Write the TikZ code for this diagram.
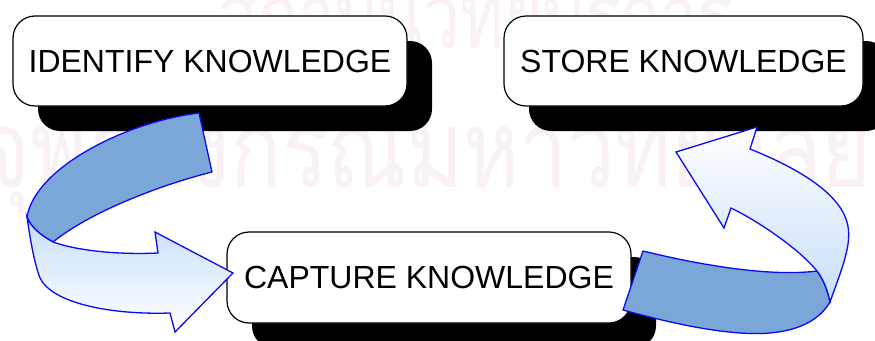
\documentclass[tikz,border=0pt]{standalone}
\usepackage{fontspec}
\setmainfont{Liberation Sans}
\newfontfamily\thaifont[Script=Thai]{Loma}
\usetikzlibrary{shadows}
\definecolor{ribbondark}{RGB}{122,167,215}
\definecolor{ribbonlight}{RGB}{200,222,250}
\definecolor{ribbonline}{RGB}{10,10,245}
\definecolor{wmark}{RGB}{250,241,246}
\tikzset{
 kbox/.style={draw=black, line width=1.2pt, fill=white, rounded corners=22pt, inner sep=0pt,
   minimum height=90pt, font=\fontsize{32}{38}\selectfont,
   general shadow={fill=black, shadow xshift=25pt, shadow yshift=-25pt}},
 ribdark/.style={draw=ribbonline, line width=1.3pt, fill=ribbondark, line join=round},
 riblight/.style={draw=ribbonline, line width=1.3pt, line join=miter},
 wm/.style={text=wmark, inner sep=0pt}
}
\begin{document}
\begin{tikzpicture}[x=1pt,y=-1pt]
\clip (0,0) rectangle (875,340);
\fill[white] (0,0) rectangle (875,340);
\node[wm, anchor=base west, font=\thaifont\fontsize{92}{92}\selectfont] (wm1) at (218,48)
  {\scalebox{0.72}[1]{สถาบันวิทยบริการ}};
\node[wm, anchor=base west, font=\thaifont\fontsize{108}{108}\selectfont] (wm2) at (-20,187)
  {\scalebox{0.79}[1]{จุฬาลงกรณ์มหาวิทยาลัย}};
\node[kbox, minimum width=394pt] (identify) at (210,61) {IDENTIFY KNOWLEDGE};
\node[kbox, minimum width=359pt] (store) at (683.5,61) {STORE KNOWLEDGE};
\node[kbox, minimum width=404pt, minimum height=91pt] (capture) at (429,277.5) {CAPTURE KNOWLEDGE};
% left ribbon arrow
\draw[ribdark] (199,113) .. controls (125,122) and (35,168) .. (27,217)
 .. controls (30,226) and (40,235) .. (53,242)
 .. controls (90,212) and (160,185) .. (212,172) -- cycle;
\draw[riblight, top color=ribbonlight, bottom color=white]
 (27,217) .. controls (31,245) and (35,265) .. (40,278)
 .. controls (52,303) and (110,315) .. (170,313)
 -- (175,332) -- (233,273) -- (155,232) -- (158,253)
 .. controls (115,255) and (75,250) .. (53,242)
 .. controls (40,235) and (30,226) .. (27,217) -- cycle;
% right ribbon arrow
\draw[ribdark] (643,251) .. controls (700,265) and (770,277) .. (817,271)
 .. controls (824,280) and (828,292) .. (830,302)
 .. controls (815,328) and (780,336) .. (740,333)
 .. controls (700,330) and (660,320) .. (623,310) -- cycle;
\draw[riblight, bottom color=ribbonlight, top color=white]
 (817,271) .. controls (824,280) and (828,292) .. (830,302)
 .. controls (842,268) and (853,243) .. (847,222)
 .. controls (838,190) and (790,165) .. (750,149)
 -- (757,127) -- (676,152) -- (724,228) -- (731,208)
 .. controls (760,222) and (800,250) .. (817,271) -- cycle;
\end{tikzpicture}
\end{document}
